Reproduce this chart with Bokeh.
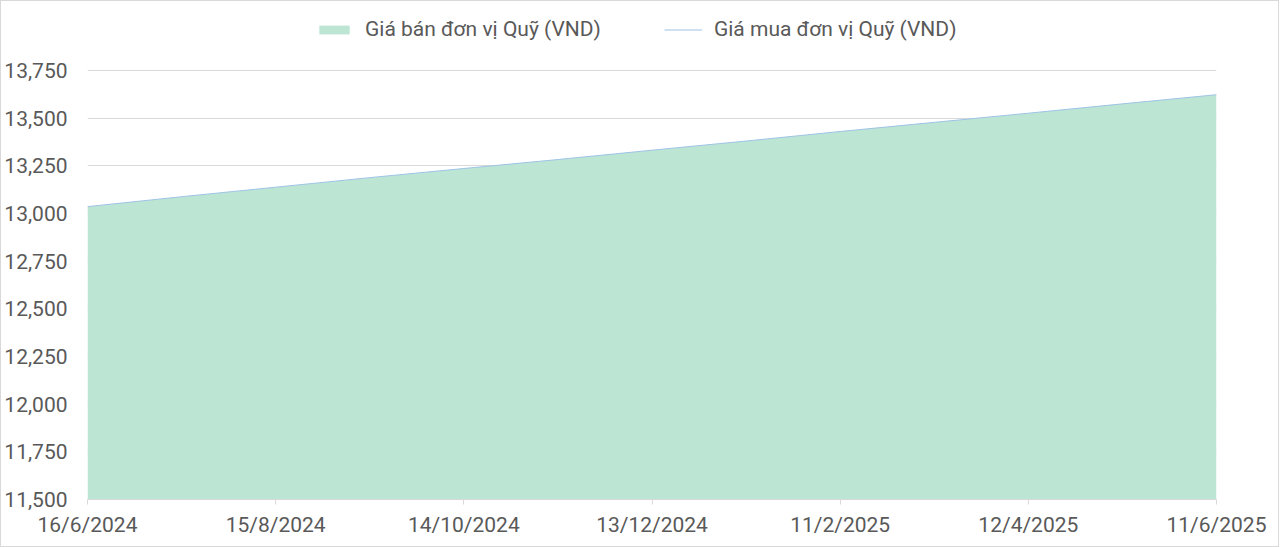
from datetime import datetime
from bokeh.plotting import figure
from bokeh.models import (Range1d, FixedTicker, NumeralTickFormatter, CustomJSTickFormatter,
                          Legend, LegendItem)
from bokeh.embed import file_html
from bokeh.resources import INLINE

# ---- data ----
dates = [datetime(2024, 6, 16), datetime(2024, 7, 16), datetime(2024, 8, 15), datetime(2024, 9, 14),
         datetime(2024, 10, 14), datetime(2024, 11, 13), datetime(2024, 12, 13), datetime(2025, 1, 12),
         datetime(2025, 2, 11), datetime(2025, 3, 13), datetime(2025, 4, 12), datetime(2025, 5, 12),
         datetime(2025, 6, 11)]
sell_price = [13036, 13088, 13138, 13188, 13236, 13283, 13332, 13380, 13430, 13478, 13526, 13575, 13623]
buy_price = [13036, 13088, 13138, 13188, 13236, 13283, 13332, 13380, 13430, 13478, 13526, 13575, 13623]
x_tick_dates = [datetime(2024, 6, 16), datetime(2024, 8, 15), datetime(2024, 10, 14), datetime(2024, 12, 13),
                datetime(2025, 2, 11), datetime(2025, 4, 12), datetime(2025, 6, 11)]
y_ticks = [11500, 11750, 12000, 12250, 12500, 12750, 13000, 13250, 13500, 13750]
sell_label = "Giá bán đơn vị Quỹ (VND)"
buy_label = "Giá mua đơn vị Quỹ (VND)"

FONT = "Roboto"
TXT = "#595959"
GRID = "#D9D9D9"

# layout: plot area 429px tall for the tick span, plus headroom above for the legend
PLOT_H = 429
HEAD = 69
y_span = y_ticks[-1] - y_ticks[0]
y_top = y_ticks[-1] + y_span * HEAD / PLOT_H

p = figure(frame_width=1129, frame_height=PLOT_H + HEAD, output_backend="svg", toolbar_location=None,
           x_axis_type="datetime",
           x_range=Range1d(start=dates[0], end=dates[-1]),
           y_range=Range1d(start=y_ticks[0], end=y_top),
           min_border_left=86, min_border_right=62, min_border_top=0, min_border_bottom=47)
p.outline_line_color = None
p.background_fill_color = "white"
p.border_fill_color = "white"
p.styles = {"border": "1px solid #D9D9D9"}

area = p.varea(x=dates, y1=[y_ticks[0]] * len(dates), y2=sell_price, fill_color="#BDE5D3")
line = p.line(x=dates, y=buy_price, line_color="#9DC3E6", line_width=1)

# axes
ms_ticks = [d.timestamp() * 1000 for d in x_tick_dates]
p.xaxis.ticker = FixedTicker(ticks=ms_ticks)
p.xaxis.formatter = CustomJSTickFormatter(code="""
const d = new Date(tick);
return d.getUTCDate() + "/" + (d.getUTCMonth() + 1) + "/" + d.getUTCFullYear();
""")
p.yaxis.ticker = FixedTicker(ticks=y_ticks)
p.yaxis.formatter = NumeralTickFormatter(format="0,0")

for ax in (p.xaxis, p.yaxis):
    ax.major_label_text_font = FONT
    ax.major_label_text_font_size = "21px"
    ax.major_label_text_color = TXT
    ax.minor_tick_line_color = None

p.xaxis.axis_line_color = GRID
p.xaxis.major_tick_line_color = GRID
p.xaxis.major_tick_in = 0
p.xaxis.major_tick_out = 5
p.xaxis.major_label_standoff = 8

p.yaxis.axis_line_color = None
p.yaxis.major_tick_line_color = None
p.yaxis.major_label_standoff = 14

p.xgrid.grid_line_color = None
p.ygrid.grid_line_color = GRID
p.ygrid.grid_line_width = 1

legend = Legend(items=[LegendItem(label=sell_label, renderers=[area]),
                       LegendItem(label=buy_label, renderers=[line])],
                orientation="horizontal", location=(228, PLOT_H + HEAD - 40),
                border_line_color=None, background_fill_alpha=0,
                margin=0, padding=8, spacing=63, label_standoff=12,
                glyph_width=38, glyph_height=11,
                label_text_font=FONT, label_text_font_size="21px", label_text_color=TXT)
p.add_layout(legend)

open("out.html", "w").write(file_html(p, INLINE))
